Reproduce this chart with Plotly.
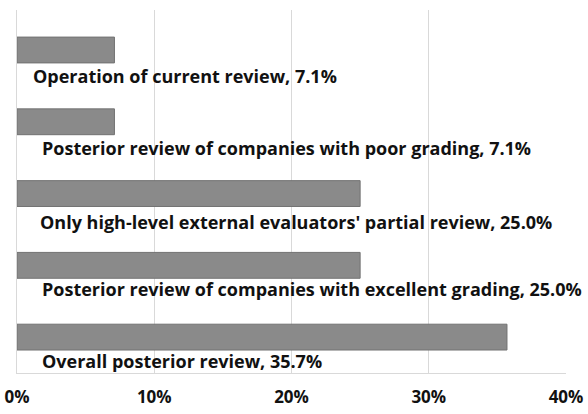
import plotly.graph_objects as go

categories = [
    "Operation of current review",
    "Posterior review of companies with poor grading",
    "Only high-level external evaluators' partial review",
    "Posterior review of companies with excellent grading",
    "Overall posterior review",
]
values = [7.1, 7.1, 25.0, 25.0, 35.7]
tick_vals = [0, 10, 20, 30, 40]
tick_text = ["0%", "10%", "20%", "30%", "40%"]

label_xshift = [14, 23, 21, 23, 23]
label_yshift = [-26, -26, -28, -24, -24]

fig = go.Figure()
fig.add_trace(go.Bar(
    y=categories, x=values, orientation="h",
    marker=dict(color="#8a8a8a", line=dict(color="#727272", width=1)),
    hoverinfo="skip",
))

annotations = []
for i, (c, v) in enumerate(zip(categories, values)):
    annotations.append(dict(
        x=0, xref="paper", y=c, yref="y",
        text=f"<b>{c}, {v:.1f}%</b>",
        showarrow=False, xanchor="left", yanchor="middle",
        xshift=label_xshift[i], yshift=label_yshift[i],
        font=dict(family="Open Sans", size=18, color="#111111"),
    ))

fig.update_layout(
    width=588, height=414,
    margin=dict(l=17, r=22, t=10, b=41, autoexpand=False),
    paper_bgcolor="white", plot_bgcolor="white",
    bargap=0.64,
    showlegend=False,
    annotations=annotations,
    xaxis=dict(
        range=[0, 40], tickvals=tick_vals, ticktext=tick_text,
        showgrid=True, gridcolor="#d9d9d9", gridwidth=1,
        zeroline=False, showline=True, linecolor="#d9d9d9", linewidth=1,
        tickfont=dict(family="Open Sans", size=17, color="#111111", weight="bold"),
        ticks="", ticklabelstandoff=9, automargin=False,
    ),
    yaxis=dict(
        categoryorder="array", categoryarray=categories, autorange="reversed",
        showticklabels=False, showgrid=False, zeroline=False,
        showline=True, linecolor="#d9d9d9", linewidth=1, ticks="",
        automargin=False,
    ),
)

fig.write_html(
    "out.html",
    config={"displayModeBar": False},
    post_script="document.body.style.margin='0';document.body.style.overflow='hidden';",
)
